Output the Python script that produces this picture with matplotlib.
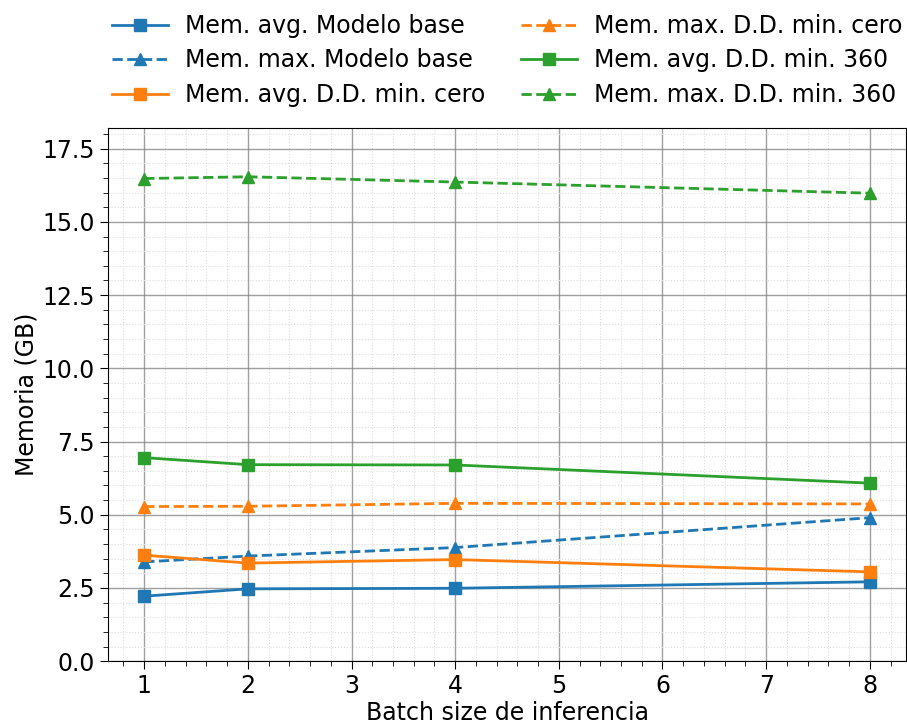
import matplotlib.pyplot as plt
from matplotlib.ticker import AutoMinorLocator

batch = [1, 2, 4, 8]

avg_base = [2.22, 2.47, 2.49, 2.71]
max_base = [3.39, 3.59, 3.88, 4.90]
avg_cero = [3.62, 3.35, 3.47, 3.05]
max_cero = [5.28, 5.29, 5.39, 5.37]
avg_360 = [6.95, 6.71, 6.70, 6.08]
max_360 = [16.48, 16.54, 16.36, 15.98]

series = [
    ("Mem. avg. Modelo base", avg_base, "tab:blue", "-", "s"),
    ("Mem. max. Modelo base", max_base, "tab:blue", "--", "^"),
    ("Mem. avg. D.D. min. cero", avg_cero, "tab:orange", "-", "s"),
    ("Mem. max. D.D. min. cero", max_cero, "tab:orange", "--", "^"),
    ("Mem. avg. D.D. min. 360", avg_360, "tab:green", "-", "s"),
    ("Mem. max. D.D. min. 360", max_360, "tab:green", "--", "^"),
]

plt.rcParams['font.size'] = 17

fig = plt.figure(figsize=(9.07, 7.25), dpi=100)
ax = fig.add_axes([0.119, 0.088, 0.880, 0.735])

for label, vals, color, ls, marker in series:
    ax.plot(batch, vals, color=color, linestyle=ls, marker=marker,
            markersize=9, linewidth=2.0, label=label)

top = max(max(v) for _, v, *_ in series)
ax.set_ylim(0, top * 1.1)
ax.set_xlabel("Batch size de inferencia", fontsize=17, labelpad=2)
ax.set_ylabel("Memoria (GB)", fontsize=17, labelpad=3)

ax.xaxis.set_minor_locator(AutoMinorLocator(5))
ax.yaxis.set_minor_locator(AutoMinorLocator(5))
ax.tick_params(which='major', length=6, labelsize=17)
ax.tick_params(which='minor', length=3.5)
ax.grid(which='major', color='gray', linestyle='-', linewidth=1.0, alpha=0.75)
ax.grid(which='minor', color='#dcdcdc', linestyle=':', linewidth=0.8)
ax.set_axisbelow(True)

ax.legend(loc='lower center', bbox_to_anchor=(0.5, 1.0), ncol=2,
          frameon=False, fontsize=17, columnspacing=1.5,
          handlelength=2.4, handletextpad=0.7, labelspacing=0.45,
          borderaxespad=0.5)

fig.savefig("out.png", dpi=100)
